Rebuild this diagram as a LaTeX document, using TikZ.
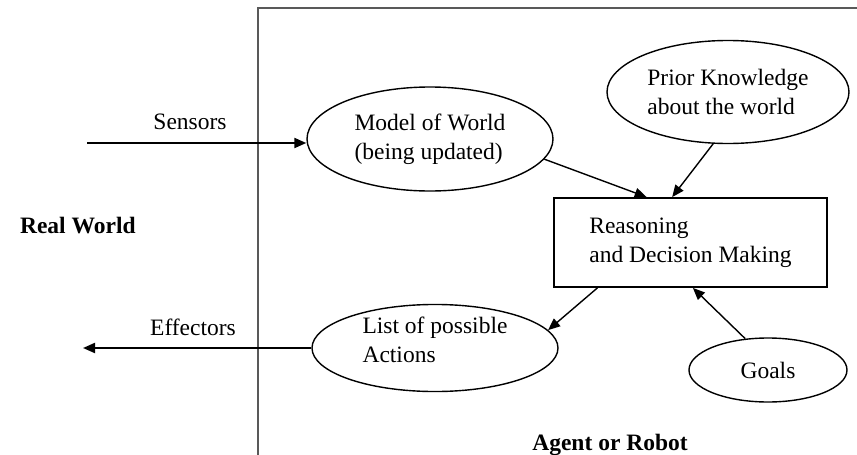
\documentclass[tikz,border=0pt]{standalone}
\usepackage{fontspec}
\setmainfont{Liberation Serif}
\usepackage{tikz}
\usetikzlibrary{arrows.meta, shapes.geometric}
\tikzset{
  bubble/.style={
    ellipse,
    draw=black,
    line width=0.7pt,
    inner sep=0pt,
    align=left,
    font=\fontsize{11.75}{14.5}\selectfont
  },
  decision box/.style={
    rectangle,
    draw=black,
    line width=0.9pt,
    inner sep=0pt,
    align=left,
    minimum width=136.5pt,
    minimum height=44.5pt,
    font=\fontsize{11.75}{14.5}\selectfont
  },
  io arrow/.style={
    -{Triangle[length=6pt, width=5pt]},
    line width=1pt
  },
  link arrow/.style={
    -{Triangle[length=6pt, width=5pt]},
    line width=0.7pt
  },
  frame line/.style={
    draw=black!65,
    line width=1pt
  },
  plain label/.style={
    font=\fontsize{11.75}{14.5}\selectfont
  },
  bold label/.style={
    font=\fontsize{11.75}{14.5}\selectfont\bfseries
  }
}

\begin{document}
\begin{tikzpicture}[x=0.5pt, y=-0.5pt]
    % 1 unit = 1 pixel of the 857 x 455 reference, origin top left
    \useasboundingbox (0,0) rectangle (857,455);

    % agent frame (only left and top edges show)
    \draw[frame line] (258,455) |- (857,8);

    % world side labels
    \node[bold label, anchor=base west] (realworld) at (13,233) {Real World};
    \node[bold label, anchor=base] (agent) at (610,450) {Agent or Robot};

    % inner parts of the agent
    \node[bubble, minimum width=123pt, minimum height=52pt] (model) at (430,139)
      {Model of World\\(being updated)};
    \node[bubble, minimum width=121pt, minimum height=51.5pt] (prior) at (728,92)
      {Prior Knowledge\\about the world};
    \node[decision box] (reason) at (690.5,242.5)
      {Reasoning\\and Decision Making};
    \node[bubble, minimum width=123pt, minimum height=42pt, text depth=8pt] (actions) at (435,348)
      {List of possible\\Actions};
    \node[bubble, minimum width=79pt, minimum height=32pt] (goals) at (768,370) {Goals};

    % sensors in, effectors out
    \coordinate (sensin) at (87,143);
    \coordinate (effout) at (83,348);
    \draw[io arrow] (sensin) -- (sensin -| model.west);
    \draw[io arrow] (actions.west) -- (effout);
    \node[plain label, anchor=base] (sensors) at (190,129) {Sensors};
    \node[plain label, anchor=base] (effectors) at (193,335) {Effectors};

    % flow through the reasoning box
    \draw[link arrow] (model.-10) -- (reason.134);
    \draw[link arrow] (prior.-106) -- (reason.112);
    \draw[link arrow] (reason.206) -- (actions.9);
    \draw[link arrow] (goals.126) -- (reason.-87);

\end{tikzpicture}
\end{document}
